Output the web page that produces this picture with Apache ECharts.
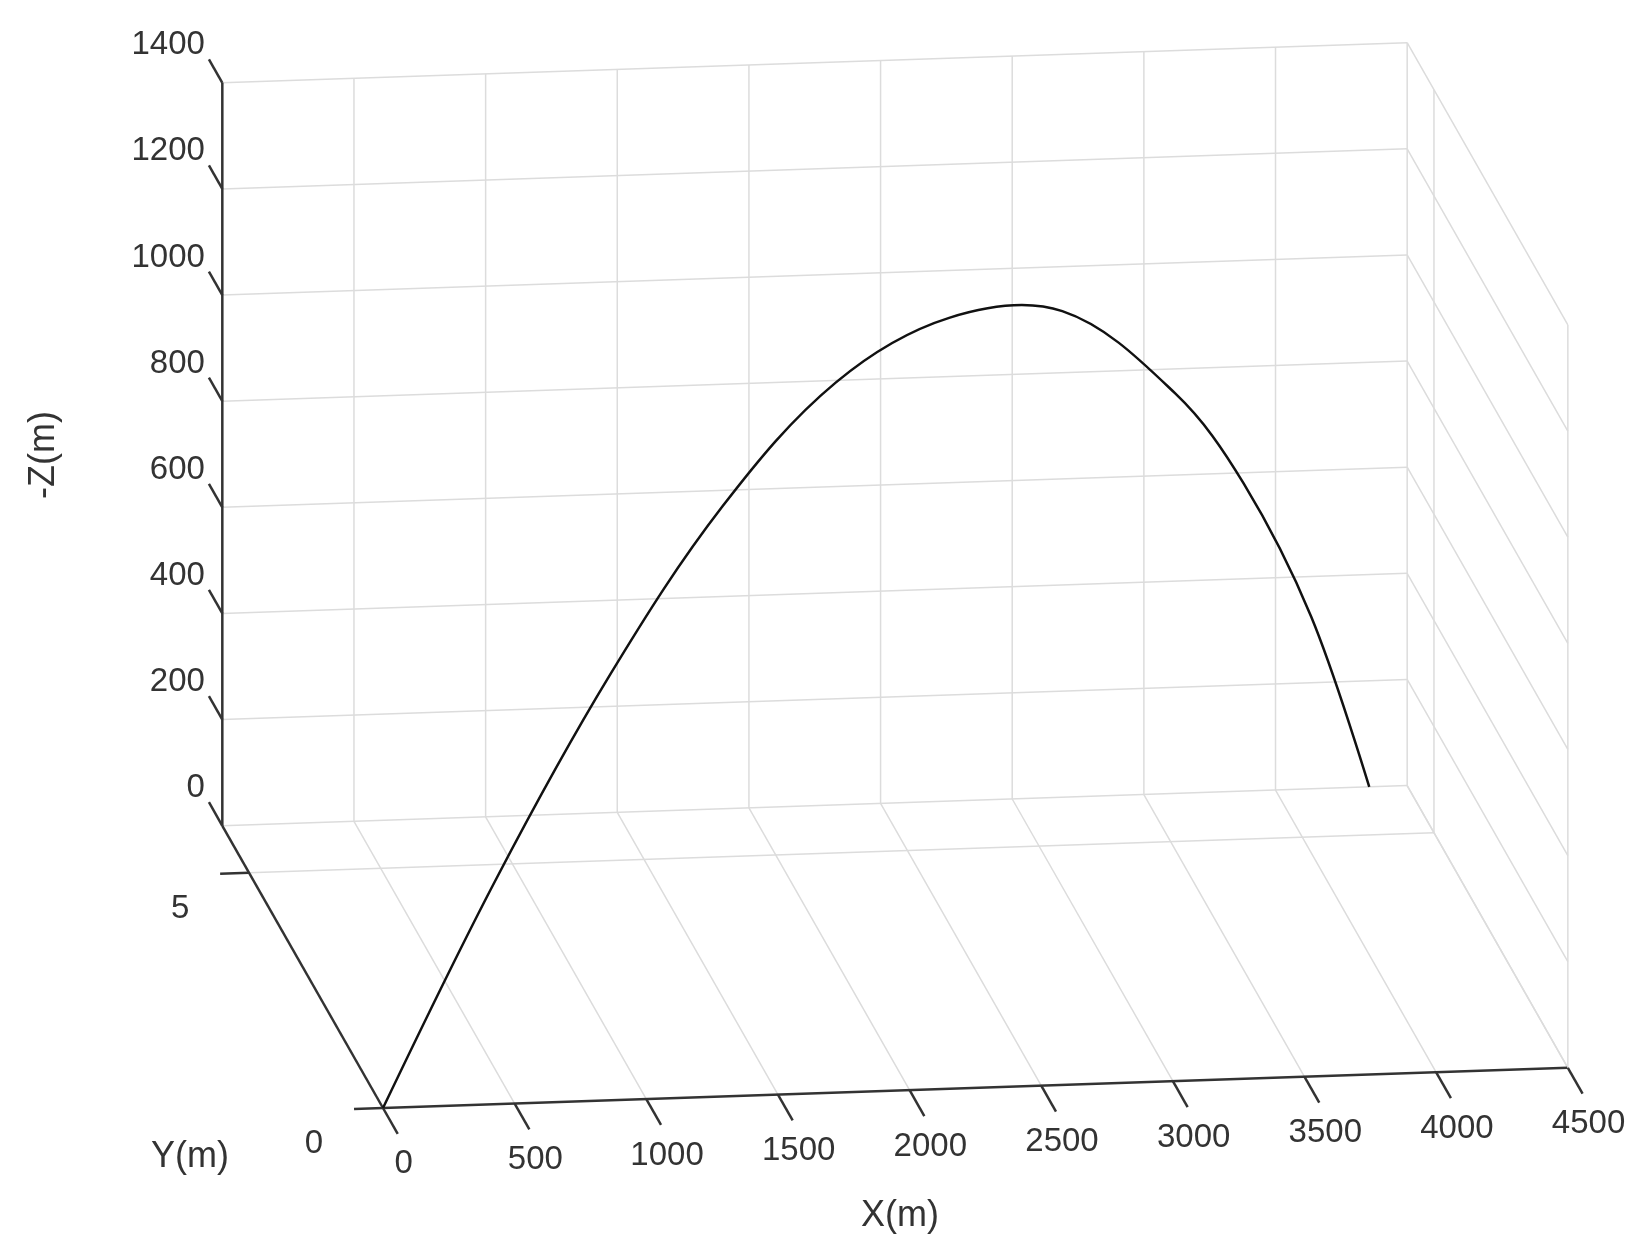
<!DOCTYPE html>
<html>
<head>
<meta charset="utf-8">
<script src="https://cdn.jsdelivr.net/npm/echarts@6/dist/echarts.min.js"></script>
<style>html,body{margin:0;background:#fff}#main{width:1652px;height:1249px}</style>
</head>
<body>
<div id="main"></div>
<script>
// tick values
var xTicks = [0, 500, 1000, 1500, 2000, 2500, 3000, 3500, 4000, 4500];
var yTicks = [0, 5];
var zTicks = [0, 200, 400, 600, 800, 1000, 1200, 1400];
var yMax = 6;

// trajectory
var trajX = [0, 500, 1000, 1500, 2000, 2500, 3000, 3500, 3800, 4100, 4356];
var trajY = [0, 0.69, 1.38, 2.07, 2.75, 3.44, 4.13, 4.82, 5.23, 5.65, 6.0];
var trajZ = [0, 362, 675, 925, 1090, 1142, 1085, 860, 650, 356, 0];

// projection of the MATLAB view onto the page
function proj(x, y, z) {
  return [383 + 0.2633 * x - 26.78 * y, 1108 - 0.00892 * x - 47.04 * y - 0.5307 * z];
}

var chart = echarts.init(document.getElementById('main'));
var xMax = xTicks[xTicks.length - 1], zMax = zTicks[zTicks.length - 1];
var gridColor = '#dcdcdc', axisColor = '#333';
var font = '33px "Liberation Sans", Arial, sans-serif';
var nameFont = '36px "Liberation Sans", Arial, sans-serif';

function line(a, b, color, w) {
  return { type: 'line', shape: { x1: a[0], y1: a[1], x2: b[0], y2: b[1] },
    style: { stroke: color, lineWidth: w } };
}
function text(p, s, align, vAlign, rot, f) {
  return { type: 'text', x: p[0], y: p[1], rotation: rot || 0,
    style: { text: s, font: f || font, fill: '#333', align: align, verticalAlign: vAlign } };
}

function renderFrame(params, api) {
  var els = [];
  xTicks.forEach(function (x) {
    els.push(line(proj(x, yMax, 0), proj(x, yMax, zMax), gridColor, 1.5));
    els.push(line(proj(x, 0, 0), proj(x, yMax, 0), gridColor, 1.5));
  });
  zTicks.forEach(function (z) {
    els.push(line(proj(0, yMax, z), proj(xMax, yMax, z), gridColor, 1.5));
    els.push(line(proj(xMax, 0, z), proj(xMax, yMax, z), gridColor, 1.5));
  });
  yTicks.forEach(function (y) {
    els.push(line(proj(0, y, 0), proj(xMax, y, 0), y === 0 ? axisColor : gridColor, y === 0 ? 2.5 : 1.5));
    els.push(line(proj(xMax, y, 0), proj(xMax, y, zMax), gridColor, 1.5));
  });
  // axes
  els.push(line(proj(0, 0, 0), proj(0, yMax, 0), axisColor, 2.5));
  els.push(line(proj(0, yMax, 0), proj(0, yMax, zMax), axisColor, 2.5));
  xTicks.forEach(function (x) {
    var a = proj(x, 0, 0), b = proj(x, -0.55, 0);
    els.push(line(a, b, axisColor, 2.5));
    els.push(text([b[0] + 6, b[1] + 14], String(x), 'center', 'top'));
  });
  yTicks.forEach(function (y) {
    var a = proj(0, y, 0), b = proj(-110, y, 0);
    els.push(line(a, b, axisColor, 2.5));
    els.push(text([b[0] - 40, b[1] + 35], String(y), 'center', 'middle'));
  });
  zTicks.forEach(function (z) {
    var a = proj(0, yMax, z), b = proj(0, yMax + 0.5, z);
    els.push(line(a, b, axisColor, 2.5));
    els.push(text([b[0] - 4, b[1] - 14], String(z), 'right', 'middle'));
  });
  els.push(text([900, 1216], 'X(m)', 'center', 'middle', 0, nameFont));
  els.push(text([190, 1157], 'Y(m)', 'center', 'middle', 0, nameFont));
  els.push(text([44, 455], '-Z(m)', 'center', 'middle', Math.PI / 2, nameFont));
  return { type: 'group', children: els };
}

function renderTraj(params, api) {
  var pts = trajX.map(function (x, i) { return proj(x, trajY[i], trajZ[i]); });
  return { type: 'polyline', shape: { points: pts, smooth: 0.35 },
    style: { stroke: '#111', lineWidth: 2.5, fill: null } };
}

chart.setOption({
  animation: false,
  series: [
    { type: 'custom', coordinateSystem: 'none', data: [0], renderItem: renderFrame, silent: true },
    { type: 'custom', coordinateSystem: 'none', data: [0], renderItem: renderTraj, silent: true }
  ]
});
</script>
</body>
</html>
